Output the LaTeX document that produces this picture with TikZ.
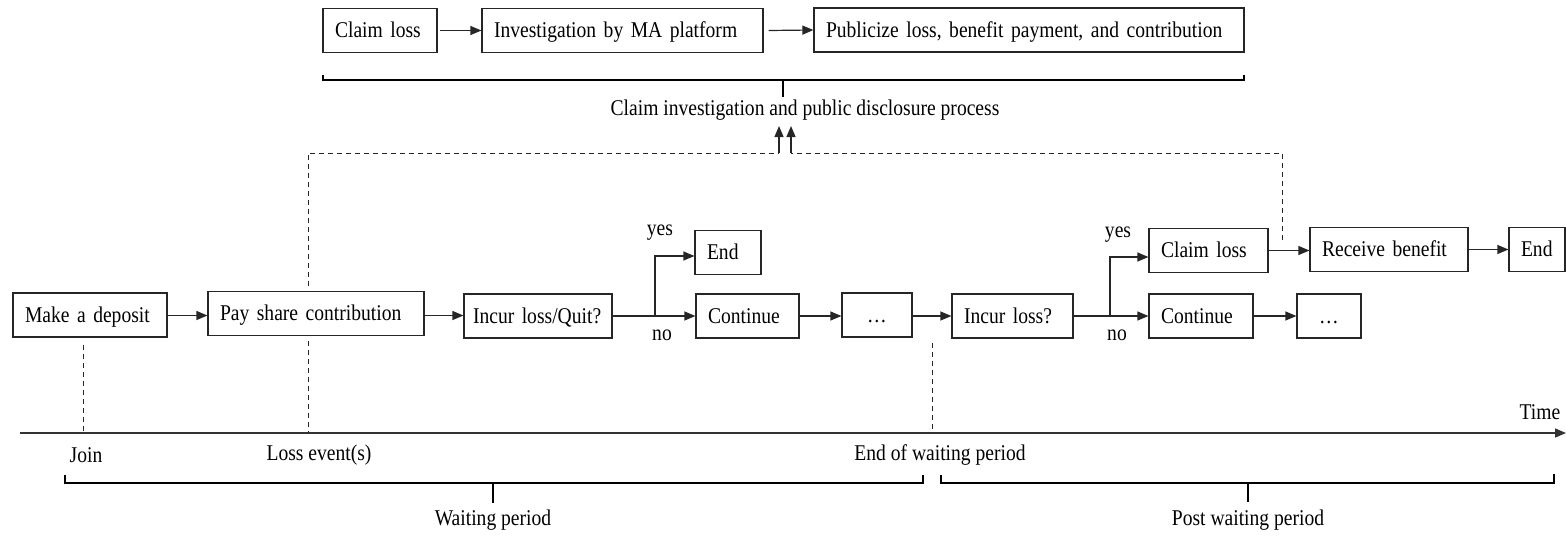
\documentclass[tikz,border=0pt]{standalone}
\usepackage{fontspec}
\setmainfont{Liberation Serif}[FakeStretch=0.87]
\usetikzlibrary{arrows.meta}
\begin{document}
\begin{tikzpicture}[x=1pt,y=-1pt,
  font=\fontsize{22.5}{26}\selectfont,
  box/.style={draw=black!85, line width=1.2pt, minimum height=44pt, inner xsep=12pt, inner ysep=0pt, text height=17pt, text depth=3pt, align=left},
  dotbox/.style={draw=black!85, line width=1.2pt, minimum height=44pt, inner sep=0pt, text height=17pt, text depth=3pt, align=center},
  arr/.style={draw=black!85, line width=1.2pt, -{Triangle[length=11pt,width=9pt]}},
  dsh/.style={draw=black!85, line width=1pt, dash pattern=on 5pt off 4pt},
  brk/.style={draw=black, line width=2pt},
  lbl/.style={inner sep=0pt}]
\useasboundingbox (0,0) rectangle (1566,538);

% ---- top row
\node[box, text width=90pt] (CLt) at (380,30.5) {Claim loss};
\node[box, text width=257pt] (INV) at (622.5,30.5) {Investigation by MA platform};
\node[box, text width=406pt] (PUB) at (1029,30) {Publicize loss, benefit payment, and contribution};
\draw[arr] (CLt.east) ++(2,0) -- (INV.west);
\draw[arr] (INV.east) ++(5,0) -- (PUB.west);
\draw[brk] (323,75) -- (323,80) -- (1244,80) -- (1244,75);
\draw[brk] (783,80) -- (783,97);
\node[lbl] (CIP) at (805,110) {Claim investigation and public disclosure process};

% ---- main row
\node[box, text width=130pt] (MD) at (90,315) {Make a deposit};
\node[box, text width=192pt] (PS) at (316,313.5) {Pay share contribution};
\node[box, inner xsep=9pt, text width=130pt] (IQ) at (538,316) {Incur loss/Quit?};
\node[box, text width=42pt] (E1) at (728,252.5) {End};
\node[box, text width=79pt] (C1) at (747.5,316) {Continue};
\node[dotbox, minimum width=70pt] (D1) at (877,315) {\dots};
\node[box, text width=97pt] (IL) at (1012.5,316) {Incur loss?};
\node[box, text width=95pt] (CL2) at (1208.5,250.5) {Claim loss};
\node[box, text width=134pt] (RB) at (1389,249.5) {Receive benefit};
\node[box, text width=32pt] (E2) at (1537,249.5) {End};
\node[box, text width=80pt] (C2) at (1201,316) {Continue};
\node[dotbox, minimum width=64pt] (D2) at (1329,316) {\dots};

\coordinate (s1) at (655,316);
\coordinate (s2) at (1110,316);
\draw[arr] (MD.east |- 0,315.5) -- (PS.west |- 0,315.5);
\draw[arr] (PS.east |- 0,315.5) -- (IQ.west |- 0,315.5);
\draw[arr] (IQ.east) -- (C1.west);
\draw[arr] (s1) |- (E1.west |- 0,256);
\draw[arr] (C1.east) -- (D1.west |- C1.east);
\draw[arr] (D1.east |- IL.west) -- (IL.west);
\draw[arr] (IL.east) -- (C2.west);
\draw[arr] (s2) |- (CL2.west |- 0,257);
\draw[arr] (CL2.east) -- (RB.west |- CL2.east);
\draw[arr] (RB.east) -- (E2.west);
\draw[arr] (C2.east) -- (D2.west);

\node[lbl] (yes1) at (660,233) {yes};
\node[lbl] (no1) at (662,335) {no};
\node[lbl] (yes2) at (1118,235) {yes};
\node[lbl] (no2) at (1117,335) {no};

% ---- dashed links to disclosure
\coordinate (p1) at (308,286);
\coordinate (m1) at (779,153);
\coordinate (a1) at (779,126);
\coordinate (p2) at (1282,240);
\coordinate (m2) at (791,153);
\coordinate (a2) at (791,126);
\draw[dsh] (p1) |- (m1);
\draw[dsh] (p2) |- (m2);
\draw[arr] (m1) -- (a1);
\draw[arr] (m2) -- (a2);

% ---- timeline
\coordinate (t0) at (20,433);
\coordinate (t1) at (1566,433);
\draw[draw=black!80, line width=1.5pt, -{Triangle[length=11pt,width=9pt]}] (t0) -- (t1);
\node[lbl] (TIME) at (1540,412) {Time};

\coordinate (j1) at (83,345);
\coordinate (j2) at (308,341);
\coordinate (j3) at (932,343);
\draw[dsh] (j1) -- (j1 |- t0);
\draw[dsh] (j2) -- (j2 |- t0);
\draw[dsh] (j3) -- (j3 |- t0);

\node[lbl] (JOIN) at (86,455) {Join};
\node[lbl] (LE) at (319,455) {Loss event(s)};
\node[lbl] (EWP) at (940,455) {End of waiting period};

\draw[brk] (65,475) -- (65,483) -- (923,483) -- (923,475);
\draw[brk] (493,483) -- (493,503);
\node[lbl] (WP) at (493,520) {Waiting period};
\draw[brk] (941,475) -- (941,483) -- (1554,483) -- (1554,474);
\draw[brk] (1248,483) -- (1248,502);
\node[lbl] (PWP) at (1248,520) {Post waiting period};
\end{tikzpicture}
\end{document}
